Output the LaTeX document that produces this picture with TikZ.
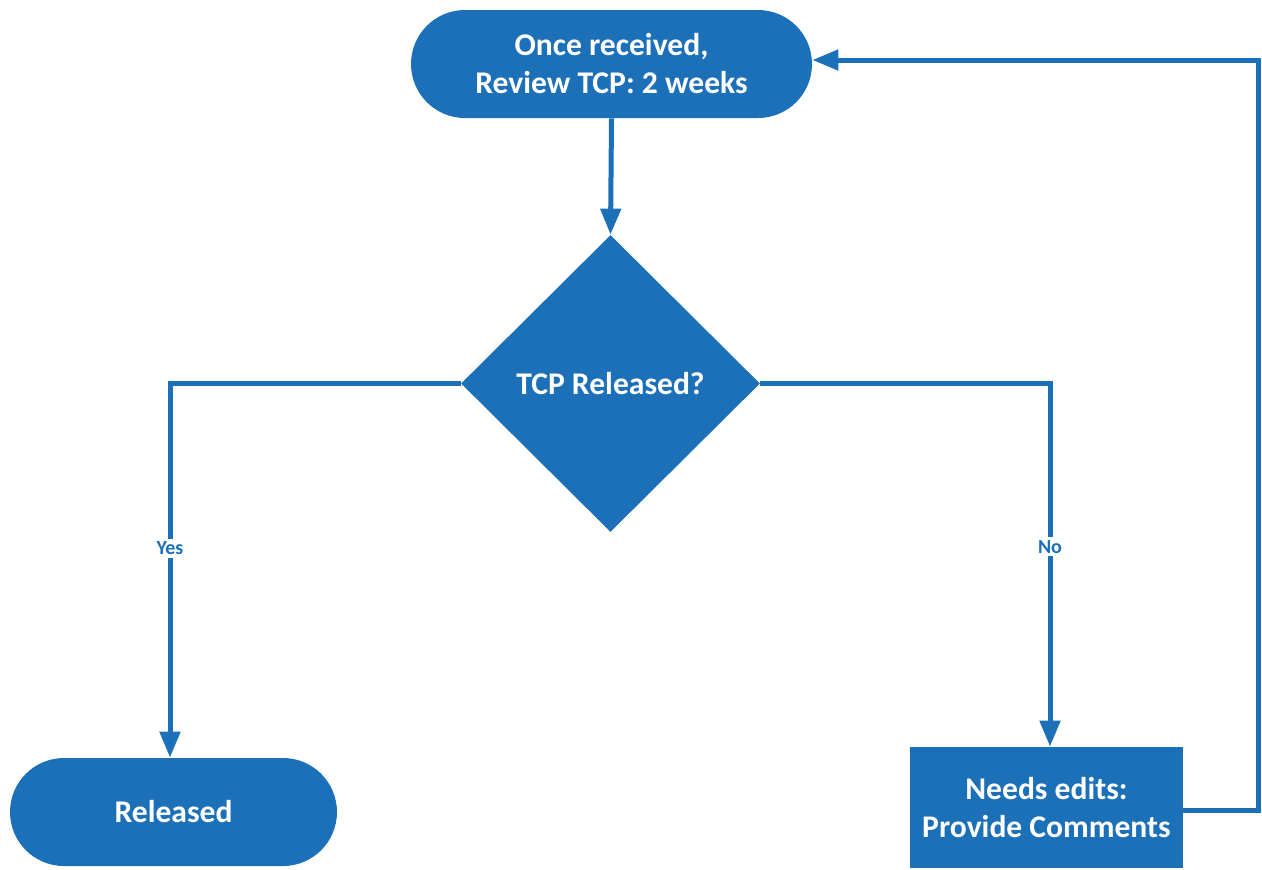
\documentclass[tikz,border=0pt]{standalone}
\usepackage{fontspec}
\setmainfont{Carlito}
\usetikzlibrary{arrows.meta,shapes.geometric,shapes.misc,positioning}
\definecolor{fcblue}{RGB}{28,112,184}
\begin{document}
\begin{tikzpicture}[x=0.5pt,y=-0.5pt,
  base/.style={fill=fcblue,draw=none,text=white,font=\bfseries\fontsize{15.8pt}{19pt}\selectfont,align=center,inner sep=0pt},
  term/.style={base,rounded rectangle,minimum width=200.5pt,minimum height=54pt},
  procbox/.style={base,rectangle,minimum width=136.5pt,minimum height=60.5pt},
  decis/.style={base,diamond,minimum width=149.5pt,minimum height=148.5pt,aspect=1},
  conn/.style={draw=fcblue,line width=2.5pt,-{Triangle[length=13pt,width=10pt]}},
  lbl/.style={fill=white,text=fcblue,font=\bfseries\fontsize{10pt}{12pt}\selectfont,inner sep=1.5pt}
]
\useasboundingbox (0,0) rectangle (1262,869);
\node[term] (start) at (611.5,64) {Once received,\\Review TCP: 2 weeks};
\node[decis] (dec) at (610.5,383.5) {TCP Released?};
\node[term,minimum width=163.5pt] (rel) at (173.5,812) {Released};
\node[procbox] (edit) at (1046.5,807.5) {Needs edits:\\Provide Comments};
\coordinate (yc) at (170,383.5);
\coordinate (nc) at (1050,383.5);
\coordinate (rc1) at (1258,810);
\coordinate (rc2) at (1258,60);
\draw[conn] (start.south) -- (dec.north);
\draw[conn] (dec.west) -- (yc) -- (yc |- rel.north) node[lbl,pos=0.44] {Yes};
\draw[conn] (dec.east) -- (nc) -- (nc |- edit.north) node[lbl,pos=0.45] {No};
\draw[conn] (edit.east |- rc1) -- (rc1) -- (rc2) -- (start.east |- rc2);
\end{tikzpicture}
\end{document}
